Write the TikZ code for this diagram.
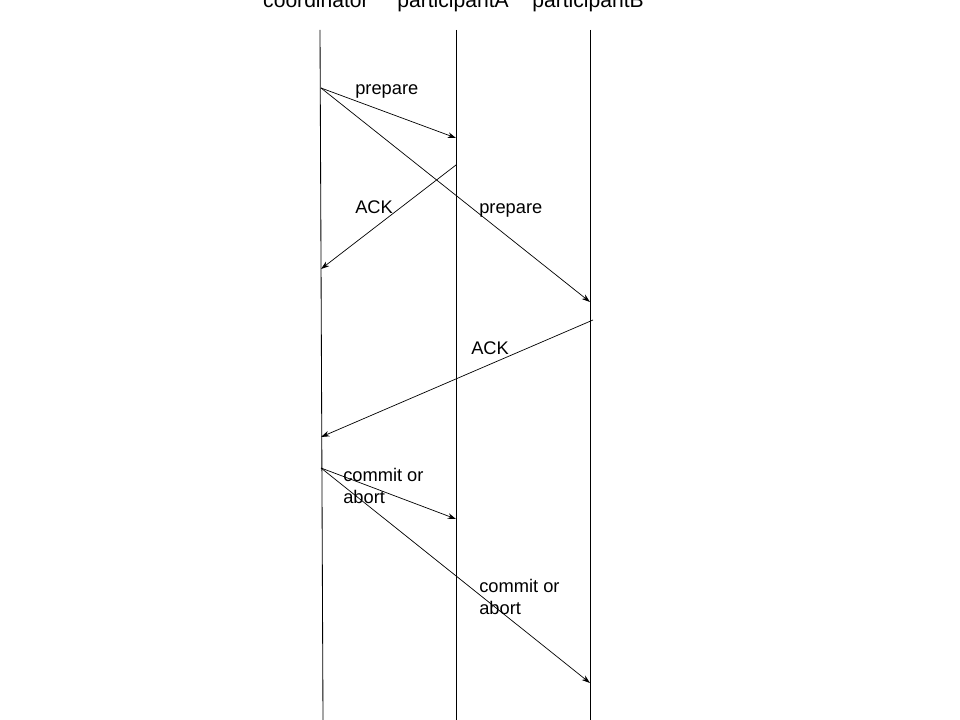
\documentclass[tikz,border=0pt]{standalone}
\usepackage{fontspec}
\setmainfont{Liberation Sans}
\usepackage{tikz}
\usetikzlibrary{arrows.meta, positioning}
\tikzset{
  lifeline/.style={line width=0.6pt, black},
  msg/.style={-{Stealth[length=6pt, width=4pt]}, line width=0.5pt},
}

\begin{document}
\begin{tikzpicture}[
  x=0.025cm, y=-0.025cm,
  header/.style={font=\fontsize{15}{18}\selectfont, inner sep=0pt, anchor=base},
  msglabel/.style={font=\fontsize{13}{15.6}\selectfont, inner sep=0pt, align=left},
]
\useasboundingbox (0,0) rectangle (960,720);

% Headers
\node[header] (hcoord) at (316,8) {coordinator};
\node[header] (hpartA) at (453,8) {participantA};
\node[header] (hpartB) at (588,8) {participantB};

% Lifelines
\coordinate (coordtop) at (320,30);
\coordinate (coordbot) at (323,720);
\coordinate (atop) at (456,30);
\coordinate (abot) at (456,720);
\coordinate (btop) at (590,30);
\coordinate (bbot) at (590,720);
\draw[lifeline] (coordtop) -- (coordbot);
\draw[lifeline] (atop) -- (abot);
\draw[lifeline] (btop) -- (bbot);

% Phase 1: prepare / ACK
\coordinate (c1) at (321,88);
\coordinate (a1) at (456,138);
\coordinate (b1) at (590,302);
\coordinate (a2) at (456,165);
\coordinate (c2) at (321,269);
\coordinate (b2) at (593,320);
\coordinate (c3) at (321,437);
\draw[msg] (c1) -- (a1);
\draw[msg] (c1) -- (b1);
\draw[msg] (a2) -- (c2);
\draw[msg] (b2) -- (c3);
\node[msglabel, anchor=base west] (prepA) at (355,95) {prepare};
\node[msglabel, anchor=base west] (prepB) at (479,214) {prepare};
\node[msglabel, anchor=base west] (ackA) at (355,214) {ACK};
\node[msglabel, anchor=base west] (ackB) at (471,355) {ACK};

% Phase 2: commit or abort
\coordinate (c4) at (321,468);
\coordinate (a3) at (456,519);
\coordinate (b3) at (590,683);
\draw[msg] (c4) -- (a3);
\draw[msg] (c4) -- (b3);
\node[msglabel, anchor=north west] (commitA) at (343,468) {commit or\\abort};
\node[msglabel, anchor=north west] (commitB) at (479,579) {commit or\\abort};

\end{tikzpicture}
\end{document}
